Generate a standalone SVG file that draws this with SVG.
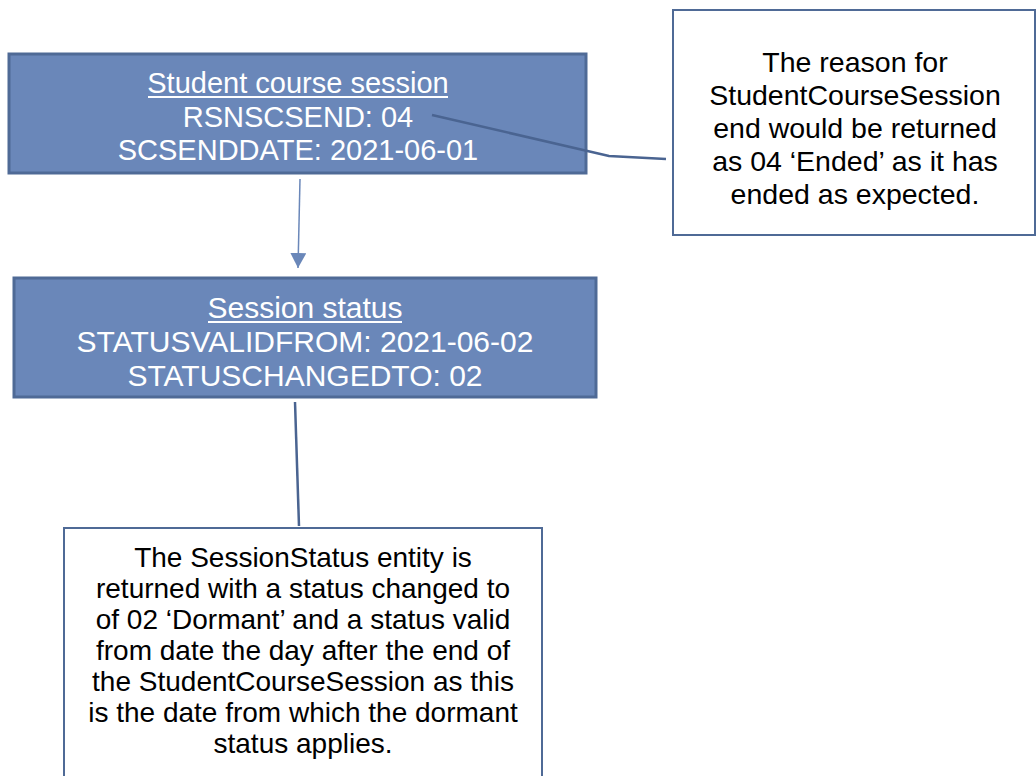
<svg xmlns="http://www.w3.org/2000/svg" width="1036" height="776" viewBox="0 0 1036 776">
<defs>
<style>
.ent{fill:#6a87b9;stroke:#4f6a96;stroke-width:3}
.note{fill:#ffffff;stroke:#4f6a96;stroke-width:2}
.wt{font-family:"Liberation Sans",Arial,sans-serif;font-size:29px;fill:#ffffff;text-anchor:middle}
.wt3{font-family:"Liberation Sans",Arial,sans-serif;font-size:30px;fill:#ffffff;text-anchor:middle}
.bt{font-family:"Liberation Sans",Arial,sans-serif;font-size:28.5px;fill:#000000;text-anchor:middle}
.bt2{font-family:"Liberation Sans",Arial,sans-serif;font-size:28px;fill:#000000;text-anchor:middle}
.ul{stroke:#ffffff;stroke-width:2}
.c1{fill:none;stroke:#4a6491;stroke-width:2.5}
.c2{fill:none;stroke:#6a87b9;stroke-width:1.5}
</style>
<marker id="ah" markerWidth="16" markerHeight="16" refX="15" refY="8" orient="auto" markerUnits="userSpaceOnUse">
<path d="M0,0 L15,8 L0,16 z" fill="#6a87b9"/>
</marker>
</defs>
<rect width="1036" height="776" fill="#ffffff"/>
<g id="student-course-session">
<rect class="ent" x="9" y="54" width="577" height="119"/>
<text class="wt" x="298" y="93">Student course session</text>
<line class="ul" x1="148" y1="97" x2="448" y2="97"/>
<text class="wt" x="298" y="127">RSNSCSEND: 04</text>
<text class="wt" x="298" y="160">SCSENDDATE: 2021-06-01</text>
</g>
<g id="session-status">
<rect class="ent" x="14" y="278" width="582" height="119"/>
<text class="wt3" x="305" y="318">Session status</text>
<line class="ul" x1="208" y1="322" x2="402" y2="322"/>
<text class="wt3" x="305" y="352">STATUSVALIDFROM: 2021-06-02</text>
<text class="wt3" x="305" y="386">STATUSCHANGEDTO: 02</text>
</g>
<g id="note-reason">
<rect class="note" x="673" y="10" width="362" height="225"/>
<text class="bt" x="855" y="72">The reason for</text>
<text class="bt" x="855" y="105">StudentCourseSession</text>
<text class="bt" x="855" y="138">end would be returned</text>
<text class="bt" x="855" y="171">as 04 ‘Ended’ as it has</text>
<text class="bt" x="855" y="204">ended as expected.</text>
</g>
<g id="note-status">
<rect class="note" x="64" y="528" width="478" height="260"/>
<text class="bt2" x="303" y="567">The SessionStatus entity is</text>
<text class="bt2" x="303" y="598">returned with a status changed to</text>
<text class="bt2" x="303" y="629">of 02 ‘Dormant’ and a status valid</text>
<text class="bt2" x="303" y="660">from date the day after the end of</text>
<text class="bt2" x="303" y="691">the StudentCourseSession as this</text>
<text class="bt2" x="303" y="722">is the date from which the dormant</text>
<text class="bt2" x="303" y="753">status applies.</text>
</g>
<g id="connectors">
<path class="c2" d="M300,179 L298,268" marker-end="url(#ah)"/>
<path class="c1" d="M432,115 L609,156 L666,159"/>
<path class="c1" d="M295,402 L299,526"/>
</g>
</svg>
